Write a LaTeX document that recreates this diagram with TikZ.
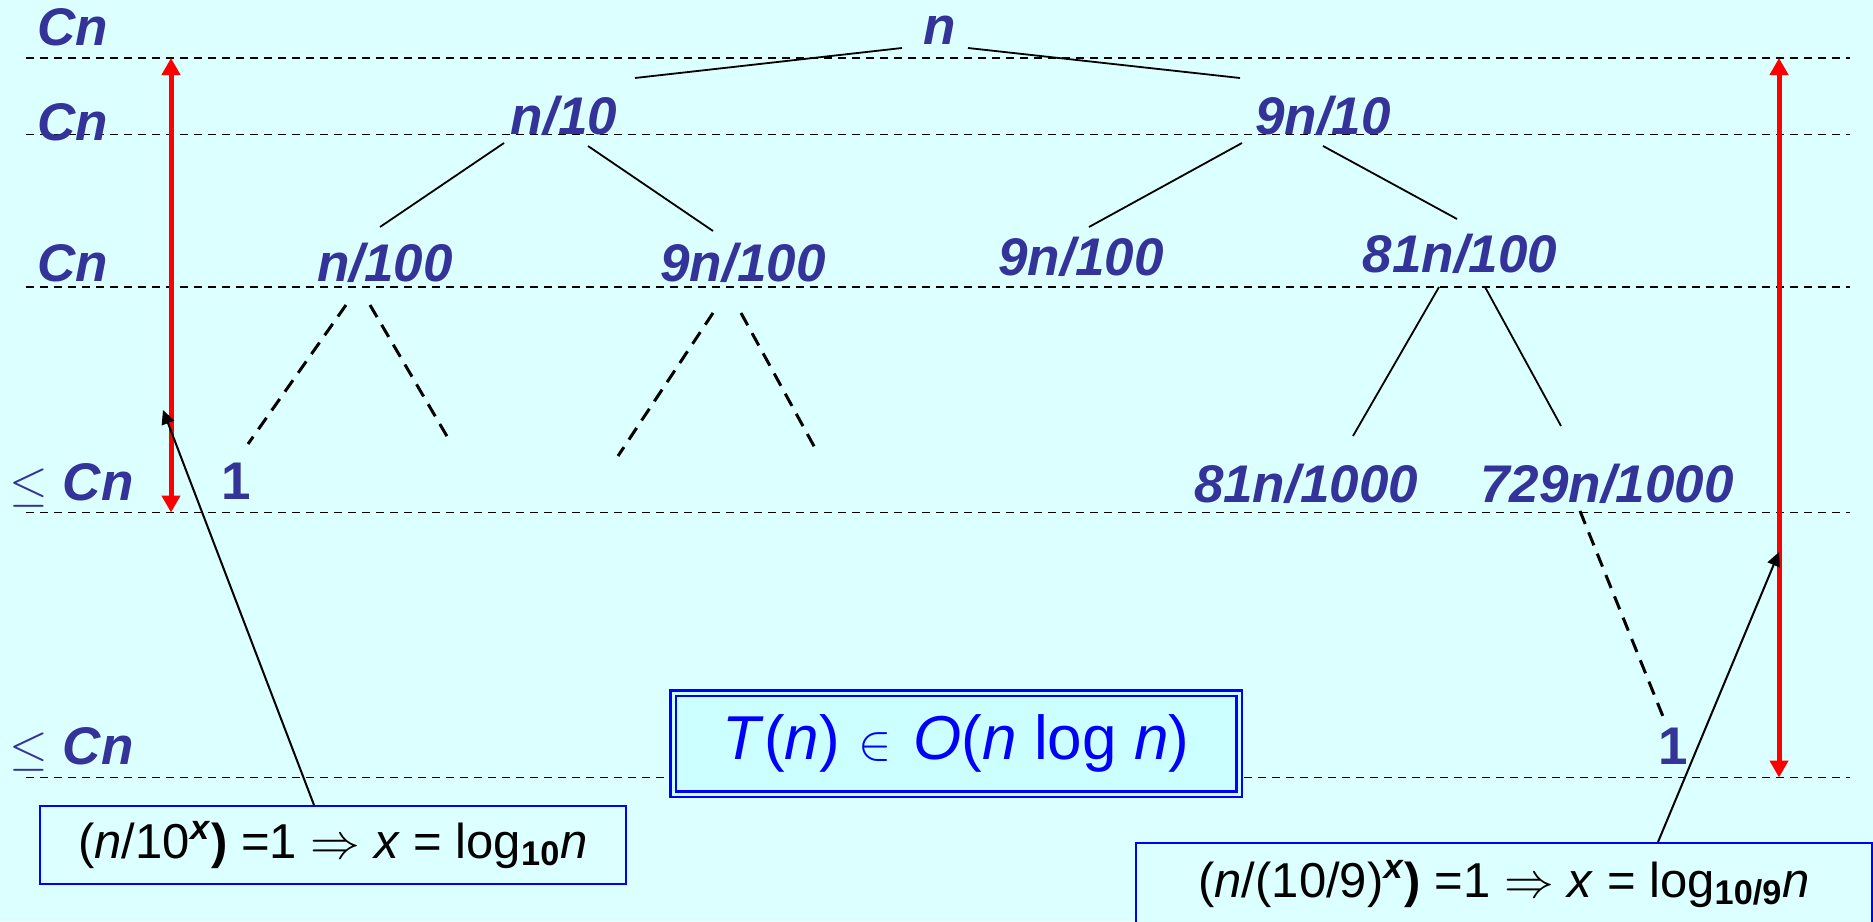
\documentclass[tikz,border=0pt]{standalone}
\usepackage{fontspec}
\setmainfont{Liberation Sans}
\usetikzlibrary{arrows.meta,calc}

\definecolor{bgcyan}{RGB}{220,255,255}
\definecolor{boxcyan}{RGB}{204,255,255}
\definecolor{labblue}{RGB}{51,51,153}
\definecolor{pureblue}{RGB}{0,0,255}

\tikzset{
  lab/.style={font=\fontsize{26.5}{30}\selectfont\bfseries\itshape, text=labblue, inner sep=0pt},
  leaf/.style={lab, font=\fontsize{26.5}{30}\selectfont\bfseries},
  rowlab/.style={lab, anchor=west},
  level/.style={line width=0.9pt, dash pattern=on 4pt off 3pt},
  edge/.style={line width=0.9pt},
  stub/.style={line width=1.5pt, dash pattern=on 7pt off 4.5pt},
  span/.style={red, line width=2.5pt, {Triangle[width=9pt,length=8.5pt]}-{Triangle[width=9pt,length=8.5pt]}},
  pointer/.style={line width=1pt, -{Triangle[width=6.5pt,length=7pt]}},
  formula/.style={draw=pureblue, line width=1pt, fill=bgcyan, inner sep=0pt,
    font=\fontsize{24.5}{28}\selectfont}
}

\newcommand{\lesym}{{\fontsize{23}{25}\selectfont$\leq$}}

\begin{document}
\begin{tikzpicture}[x=0.5pt, y=-0.5pt]
\useasboundingbox (0,0) rectangle (1873,921);
\clip (0,0) rectangle (1873,921);
\fill[bgcyan] (0,0) rectangle (1873,921);

\foreach \y in {58,134.5,287,512.5,777.5}
  \draw[level] (26,\y) -- (1850,\y);

\node[rowlab] (c1) at (37,27.5) {Cn};
\node[rowlab] (c2) at (37,122.5) {Cn};
\node[rowlab] (c3) at (37,263) {Cn};
\node[rowlab] (c4) at (9,485) {\lesym\ Cn};
\node[rowlab] (c5) at (9,749) {\lesym\ Cn};

\coordinate (lt) at (171,58);
\coordinate (lb) at (171,512.5);
\coordinate (rt) at (1779,58);
\coordinate (rb) at (1779,777.5);
\draw[span] (lt) -- (lb);
\draw[span] (rt) -- (rb);

\node[lab] (root) at (940,30) {n};
\node[lab] (a) at (564,116) {n/10};
\node[lab] (b) at (1323,116) {9n/10};
\node[lab] (aa) at (385,263) {n/100};
\node[lab] (ab) at (743,263) {9n/100};
\node[lab] (ba) at (1081,257) {9n/100};
\node[lab] (bb) at (1460,254) {81n/100};
\node[lab] (bba) at (1306,484) {81n/1000};
\node[lab] (bbb) at (1607,484) {729n/1000};
\node[leaf] (leafl) at (236,481) {1};
\node[leaf] (leafr) at (1673,746) {1};

\draw[edge] ($(root)+(-38,18)$) -- ($(a)+(71,-38)$);
\draw[edge] ($(root)+(28,18)$) -- ($(b)+(-83,-38)$);
\draw[edge] ($(a)+(-60,27)$) -- ($(aa)+(-5,-36)$);
\draw[edge] ($(a)+(24,30)$) -- ($(ab)+(-30,-32)$);
\draw[edge] ($(b)+(-81,27)$) -- ($(ba)+(8,-30)$);
\draw[edge] ($(b)+(0,30)$) -- ($(bb)+(-3,-35)$);
\draw[edge] ($(bb)+(-21,33)$) -- ($(bba)+(47,-48)$);
\draw[edge] ($(bb)+(25,33)$) -- ($(bbb)+(-46,-58)$);

\coordinate (s1) at (248,444);
\coordinate (s2) at (448,438);
\coordinate (s3) at (618,456);
\coordinate (s4) at (815,448);
\draw[stub] ($(aa)+(-39,42)$) -- (s1);
\draw[stub] ($(aa)+(-15,42)$) -- (s2);
\draw[stub] ($(ab)+(-30,50)$) -- (s3);
\draw[stub] ($(ab)+(-2,50)$) -- (s4);
\draw[stub] ($(bbb)+(-27,27)$) -- ($(leafr)+(-9,-27)$);

\node[draw=pureblue, line width=1.25pt, double=boxcyan, double distance=1.5pt,
  fill=boxcyan, minimum width=283pt, minimum height=50.5pt, inner sep=0pt,
  text=pureblue, font=\fontsize{31}{34}\selectfont] (bound) at (956,743.5)
  {\textit{T}(\textit{n})\hspace{0.3em}$\in$\hspace{0.35em}\textit{O}(\textit{n} log \textit{n})};

\node[formula, minimum width=293pt, minimum height=39pt] (lbox) at (333,845)
  {(\textit{n}/10\textsuperscript{\textbf{\textit{x}}}\textbf{)} =1 $\Rightarrow$ \textit{x} = log\textsubscript{\textbf{10}}\textit{n}};
\node[formula, minimum width=368pt, minimum height=41pt] (rbox) at (1504,884)
  {(\textit{n}/(10/9)\textsuperscript{\textbf{\textit{x}}}\textbf{)} =1 $\Rightarrow$ \textit{x} = log\textsubscript{\textbf{10/9}}\textit{n}};

\coordinate (lhit) at (163,410);
\coordinate (rhit) at (1779,552);
\draw[pointer] ($(lbox.north)+(-19,0)$) -- (lhit);
\draw[pointer] ($(rbox.north)+(154,0)$) -- (rhit);
\end{tikzpicture}
\end{document}
